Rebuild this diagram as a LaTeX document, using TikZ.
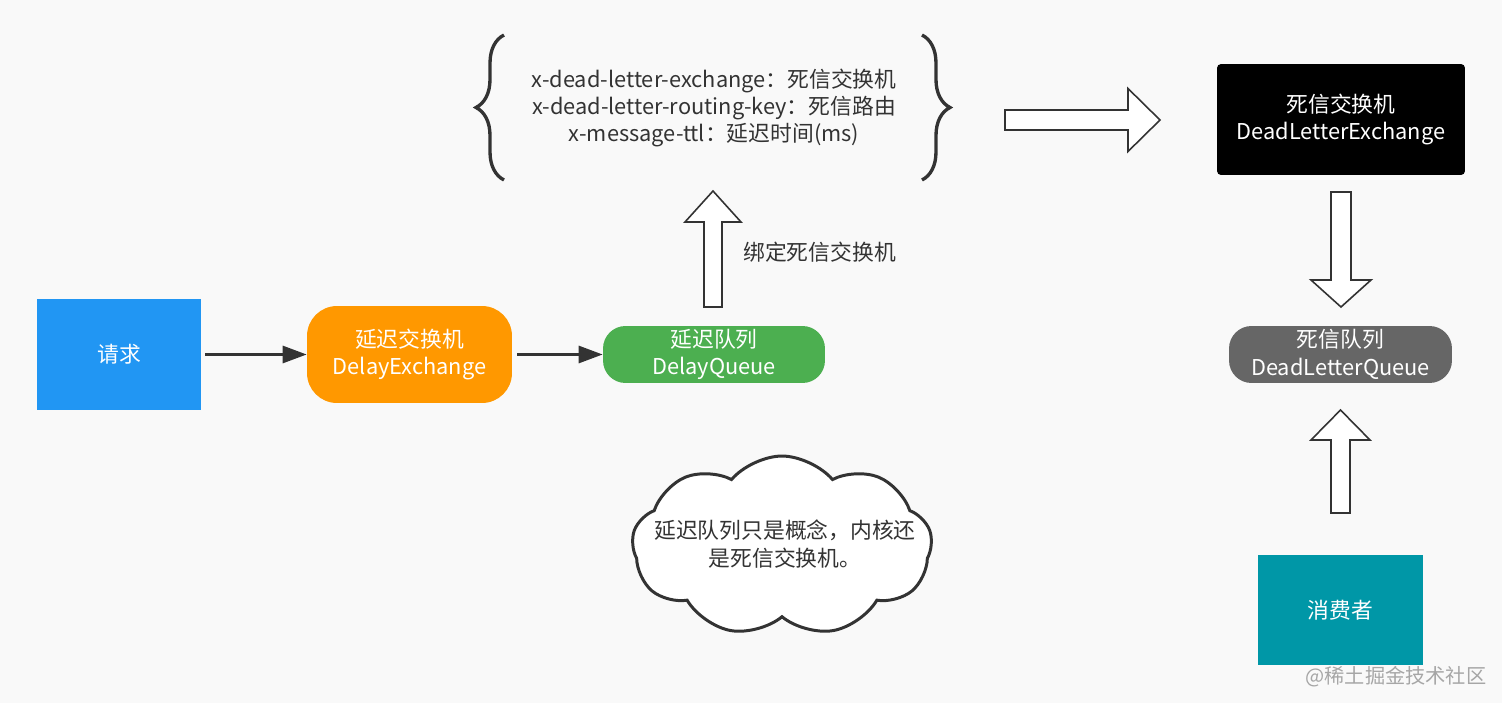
\documentclass[tikz,border=0pt]{standalone}
\usepackage{fontspec}
\setmainfont{Noto Sans CJK SC}
\usetikzlibrary{arrows.meta,shapes.symbols,decorations.pathreplacing}
\definecolor{bgc}{HTML}{F9F9F9}
\definecolor{reqblue}{HTML}{2196F3}
\definecolor{dxorange}{HTML}{FF9800}
\definecolor{dqgreen}{HTML}{4CAF50}
\definecolor{dlqgray}{HTML}{666666}
\definecolor{consteal}{HTML}{0097A7}
\definecolor{ink}{HTML}{333333}
\newcommand{\dsize}{\fontsize{12.4}{15.6}\selectfont}
% tail, angle, length, head length, shaft half width, head half width
\newcommand{\fatarrow}[6]{\draw[fat, shift={(#1)}, rotate=#2] (0,-#5) -- (#3-#4,-#5) -- (#3-#4,-#6) -- (#3,0) -- (#3-#4,#6) -- (#3-#4,#5) -- (0,#5) -- cycle;}
\tikzset{
	box/.style={text=white, align=center, font=\dsize, inner sep=0pt},
	flow/.style={-{Triangle[length=0.48cm,width=0.34cm]}, line width=1.7pt, color=ink},
	fat/.style={fill=white, draw=ink, line width=0.9pt, line join=miter},
	curly/.style={decorate, decoration={brace, amplitude=0.56cm}, line width=1.9pt, color=ink},
}

\begin{document}
\begin{tikzpicture}[x=0.02cm, y=-0.02cm]
		%%%%% START %%%%%
		
		\fill[bgc] (0, 0) rectangle (1502, 703);
		
		\node[box, fill=reqblue, minimum width=3.28cm, minimum height=2.22cm] (req) at (119, 354.5) {请求};
		\node[box, fill=dxorange, rounded corners=0.6cm, minimum width=4.1cm, minimum height=1.94cm] (dx) at (409.5, 354.5) {延迟交换机\\DelayExchange};
		\node[box, fill=dqgreen, rounded corners=0.45cm, minimum width=4.44cm, minimum height=1.14cm] (dq) at (714, 354.5) {延迟队列\\DelayQueue};
		
		\draw[flow, shorten <=0.08cm] (req) -- (dx);
		\draw[flow, shorten <=0.1cm] (dx) -- (dq);
		
		\node[align=center, text=ink, font=\dsize] (args) at (714, 108) {x-dead-letter-exchange：死信交换机\\x-dead-letter-routing-key：死信路由\\x-message-ttl：延迟时间(ms)};
		\draw[curly] (504, 180) -- (504, 35);
		\draw[curly] (922, 35) -- (922, 180);
		
		\coordinate (bindtail) at (713, 307);
		\fatarrow{bindtail}{90}{116}{31}{9}{28}
		\node[anchor=west, text=ink, font=\dsize, inner sep=0pt] (bind) at (743, 252) {绑定死信交换机};
		
		\coordinate (argstail) at (1005, 120);
		\fatarrow{argstail}{0}{155}{32}{10}{31.5}
		
		\node[box, fill=black, rounded corners=0.08cm, minimum width=4.96cm, minimum height=2.22cm] (dlx) at (1341, 119.5) {死信交换机\\DeadLetterExchange};
		\node[box, fill=dlqgray, rounded corners=0.45cm, minimum width=4.46cm, minimum height=1.14cm] (dlq) at (1340.5, 354.5) {死信队列\\DeadLetterQueue};
		\node[box, fill=consteal, minimum width=3.3cm, minimum height=2.2cm] (cons) at (1340.5, 610) {消费者};
		
		\coordinate (dlxtail) at (1341, 192);
		\fatarrow{dlxtail}{-90}{115}{27}{10}{30}
		\coordinate (constail) at (1340.5, 513);
		\fatarrow{constail}{90}{103}{30}{9.5}{29.5}
		
		\node[cloud, draw=ink, fill=white, line width=1.7pt, cloud puffs=9, cloud puff arc=100, aspect=1.6, minimum width=6cm, minimum height=3.6cm] (note) at (782, 546) {};
		\node[align=center, text=ink, font=\dsize, inner sep=0pt] (notetext) at (785, 544) {延迟队列只是概念，内核还\\是死信交换机。};
		
		\node[text=black!35, font=\fontsize{11.5}{14}\selectfont, inner sep=0pt] (mark) at (1396, 677) {@稀土掘金技术社区};
		
		%%%%% END %%%%%
\end{tikzpicture}
\end{document}
